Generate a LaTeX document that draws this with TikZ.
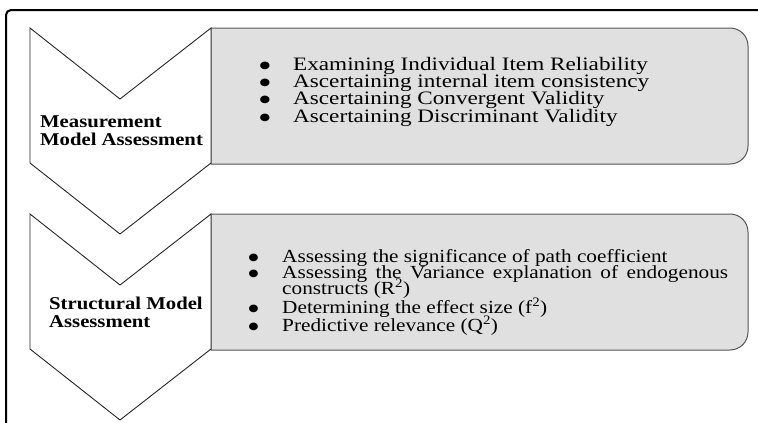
\documentclass[tikz,border=0pt]{standalone}
\usepackage{fontspec}
\setmainfont{Liberation Serif}[FakeStretch=1.15]
\newfontfamily\itemfont{Liberation Serif}[FakeStretch=1.22]
\usepackage{tikz}

\definecolor{boxgray}{RGB}{224,224,224}
\definecolor{edgegray}{RGB}{85,85,85}

\newcommand{\bigbul}{\makebox[35pt][l]{\raisebox{-6pt}[0pt][0pt]{\fontsize{32}{17}\selectfont\textbullet}}}
\newcommand{\tightlines}{\lineskiplimit-20pt\relax}

\tikzset{
	chev/.style={draw=black!85, line width=0.9pt, fill=white, line join=miter},
	infobox/.style={draw=edgegray, line width=1pt, fill=boxgray},
	itemlist/.style={anchor=base west, inner sep=0pt, align=left},
	headtxt/.style={anchor=base west, inner sep=0pt, align=left, font=\bfseries\fontsize{18}{17.5}\selectfont\tightlines}
}

\begin{document}
\begin{tikzpicture}[x=1pt,y=-1pt]
			\useasboundingbox (0,0) rectangle (758,423);
			% frame
			\draw [line width=2pt, rounded corners=5pt] (6,423) -- (6,10) -- (758,10);

			% boxes
			\draw [infobox] (211,28) -- (730,28) arc[start angle=-90, end angle=0, radius=18]
				-- (748,146) arc[start angle=0, end angle=90, radius=18] -- (211,164) -- cycle;
			\draw [infobox] (211,214) -- (730,214) arc[start angle=-90, end angle=0, radius=18]
				-- (748,332) arc[start angle=0, end angle=90, radius=18] -- (211,350) -- cycle;

			% chevrons
			\draw [chev] (30,28) -- (120,99) -- (211,28) -- (211,163) -- (120,234) -- (30,163) -- cycle;
			\draw [chev] (30,214) -- (120,285) -- (211,214) -- (211,349) -- (120,420) -- (30,349) -- cycle;

			% anchor base = baseline of the last line
			\node[headtxt] (mhead) at (40,145) {Measurement\\Model Assessment};
			\node[headtxt] (shead) at (49,327) {Structural Model\\Assessment};

			\node[itemlist, font=\itemfont\fontsize{19}{17}\selectfont\tightlines] (mlist) at (258,122)
				{\bigbul Examining Individual Item Reliability\\
				\bigbul Ascertaining internal item consistency\\
				\bigbul Ascertaining Convergent Validity\\[0.5pt]
				\bigbul Ascertaining Discriminant Validity};

			\node[itemlist, font=\fontsize{18.5}{17}\selectfont\tightlines] (slist) at (247,331)
				{\bigbul Assessing the significance of path coefficient\\[-1.5pt]
				\bigbul\makebox[446pt][s]{Assessing the Variance explanation of endogenous}\\[-1pt]
				\hspace*{35pt}constructs (R\textsuperscript{2})\\[2pt]
				\bigbul Determining the effect size (f\textsuperscript{2})\\[1pt]
				\bigbul Predictive relevance (Q\textsuperscript{2})};
		\end{tikzpicture}
\end{document}
